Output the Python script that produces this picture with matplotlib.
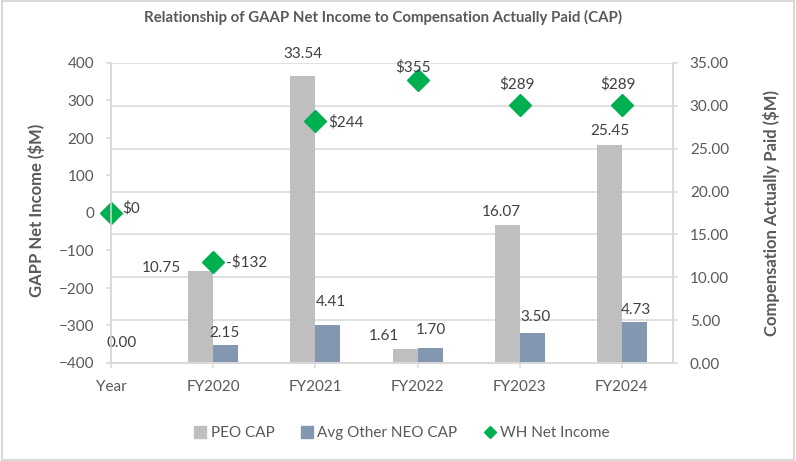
import numpy as np
import matplotlib.pyplot as plt
from matplotlib.lines import Line2D
from matplotlib.patches import Rectangle

plt.rcParams['font.family'] = ['Lato', 'DejaVu Sans']

years = ['Year', 'FY2020', 'FY2021', 'FY2022', 'FY2023', 'FY2024']
peo_cap = [0.00, 10.75, 33.54, 1.61, 16.07, 25.45]
neo_cap = [np.nan, 2.15, 4.41, 1.70, 3.50, 4.73]
net_income = [0, -132, 244, 355, 289, 289]
income_labels = ['$0', '-$132', '$244', '$355', '$289', '$289']

# label nudges in pixels (Excel moved a few of them around)
peo_off = [(23, 20), (-39, 3), (0, 22), (-21, 13), (-6, 13), (0, 14)]
neo_off = [(0, 0), (-1, 12), (3, 23), (1, 18), (3, 16), (1, 12)]
inc_off = [(11, 5), (13, 0), (13, -1), (-5, 13), (-3, 20), (-4, 20)]
inc_ha = ['left', 'left', 'left', 'center', 'center', 'center']

c_peo = '#BFBFBF'
c_neo = '#8497B0'
c_inc = '#00B050'
c_txt = '#595959'
c_grid = '#D9D9D9'

fig = plt.figure(figsize=(7.96, 4.61), dpi=100)
ax1 = fig.add_axes([111/796, 1-363/461, 562/796, 300/461])
ax2 = ax1.twinx()
ax1.set_zorder(ax2.get_zorder() + 1)
ax1.patch.set_visible(False)

x = np.arange(len(years))
w = 0.245

ax2.set_axisbelow(True)
ax2.grid(axis='y', color=c_grid, linewidth=1.1)
b1 = ax2.bar(x - w/2, peo_cap, w, color=c_peo, label='PEO CAP')
b2 = ax2.bar(x + w/2, neo_cap, w, color=c_neo, label='Avg Other NEO CAP')
ax2.set_ylim(0, 35)
ax2.set_yticks(np.arange(0, 36, 5))
ax2.set_yticklabels([f'{v:.2f}' for v in np.arange(0, 36, 5)])

for i in range(len(years)):
    ax2.annotate(f'{peo_cap[i]:.2f}', (x[i] - w/2, peo_cap[i]), xytext=peo_off[i],
                 textcoords='offset pixels', ha='center', va='center',
                 fontsize=11, color='#404040', annotation_clip=False)
    if not np.isnan(neo_cap[i]):
        ax2.annotate(f'{neo_cap[i]:.2f}', (x[i] + w/2, neo_cap[i]), xytext=neo_off[i],
                     textcoords='offset pixels', ha='center', va='center',
                     fontsize=11, color='#404040', annotation_clip=False)

ax1.plot(x, net_income, linestyle='none', marker='D', markersize=11,
         color=c_inc, clip_on=False, label='WH Net Income')
for i in range(len(years)):
    ax1.annotate(income_labels[i], (x[i], net_income[i]), xytext=inc_off[i],
                 textcoords='offset pixels', ha=inc_ha[i], va='center',
                 fontsize=11, color='#404040', annotation_clip=False)

ax1.set_ylim(-400, 400)
ax1.set_yticks(np.arange(-400, 401, 100))
ax1.set_xlim(0, 5.5)
ax1.set_xticks(x)
ax1.set_xticklabels(years)

for ax in (ax1, ax2):
    for s in ax.spines.values():
        s.set_color(c_grid)
        s.set_linewidth(1.1)
    ax.spines['top'].set_visible(False)
    ax.tick_params(colors=c_grid, labelcolor=c_txt, labelsize=11,
                   length=3.6, width=1.1, pad=8.5)

ax1.set_ylabel('GAPP Net Income ($M)', fontsize=12, fontweight='bold', color=c_txt)
ax1.yaxis.set_label_coords(-0.118, 0.51)
ax2.set_ylabel('Compensation Actually Paid ($M)', fontsize=12, fontweight='bold', color=c_txt)
ax2.yaxis.set_label_coords(1.16, 0.5)

fig.suptitle('Relationship of GAAP Net Income to Compensation Actually Paid (CAP)',
             x=0.481, y=0.962, va='center', fontsize=10.8, fontweight='bold', color=c_txt)

handles = [Line2D([], [], linestyle='none', marker='s', markersize=8, color=c_peo),
           Line2D([], [], linestyle='none', marker='s', markersize=8, color=c_neo),
           Line2D([], [], linestyle='none', marker='D', markersize=6, color=c_inc)]
fig.legend(handles, ['PEO CAP', 'Avg Other NEO CAP', 'WH Net Income'],
           loc='center', bbox_to_anchor=(0.504, 0.061), ncol=3, frameon=False,
           fontsize=11, labelcolor=c_txt, handletextpad=0.2, columnspacing=1.6,
           handlelength=1.0)

fig.patches.append(Rectangle((0.002, 0.003), 0.996, 0.994, transform=fig.transFigure,
                             fill=False, edgecolor=c_grid, linewidth=1.5))

fig.savefig('out.png', dpi=100)
